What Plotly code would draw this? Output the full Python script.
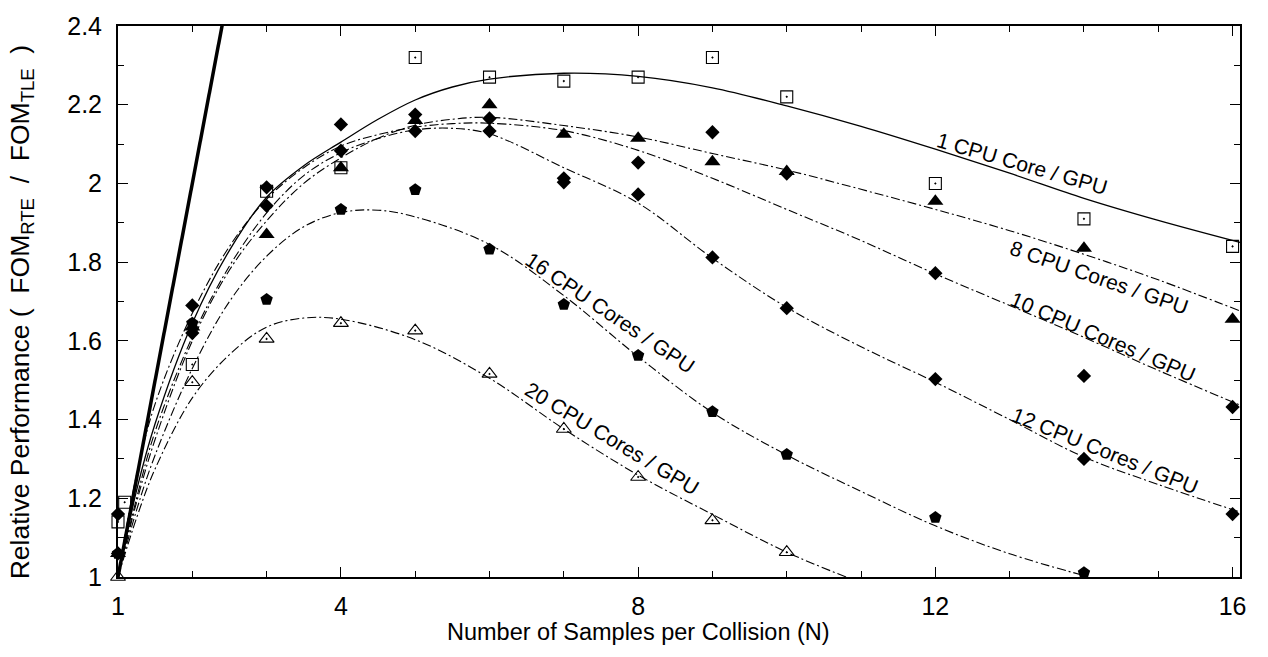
import plotly.graph_objects as go

# ---------------- data ----------------
samples_x = [1, 2, 3, 4, 5, 6, 7, 8, 9, 10, 12, 14, 16]

one_cpu_x = [1, 1.09, 2, 3, 4, 5, 6, 7, 8, 9, 10, 12, 14, 16]
one_cpu = [1.14, 1.19, 1.54, 1.98, 2.04, 2.32, 2.27, 2.26, 2.27, 2.32, 2.22, 2.00, 1.91, 1.84]
eight_cpu = [1.06, 1.635, 1.87, 2.04, 2.16, 2.20, 2.125, 2.115, 2.055, 2.03, 1.955, 1.835, 1.655]
ten_cpu = [1.16, 1.69, 1.99, 2.15, 2.175, 2.165, 2.013, 2.053, 2.13, 2.025, 1.772, 1.511, 1.432]
twelve_cpu = [1.06, 1.62, 1.943, 2.083, 2.133, 2.133, 2.003, 1.972, 1.812, 1.683, 1.503, 1.30, 1.16]
sixteen_x = [1, 2, 3, 4, 5, 6, 7, 8, 9, 10, 12, 14]
sixteen_cpu = [1.06, 1.645, 1.705, 1.934, 1.984, 1.8325, 1.6925, 1.563, 1.42, 1.311, 1.151, 1.011]
twenty_x = [1, 2, 3, 4, 5, 6, 7, 8, 9, 10]
twenty_cpu = [1.0, 1.495, 1.605, 1.645, 1.626, 1.516, 1.376, 1.254, 1.144, 1.063]

# fitted curves
fit_x = [1, 1.25, 1.5, 2, 2.5, 3, 3.5, 4, 4.5, 5, 5.5, 6, 7, 8, 9, 10, 11, 12, 13, 14, 15, 16.1]
one_fit = [1.0, 1.22, 1.39, 1.645, 1.83, 1.965, 2.045, 2.105, 2.163, 2.212, 2.245, 2.265, 2.28, 2.272, 2.243, 2.197, 2.145, 2.087, 2.026, 1.962, 1.906, 1.85]
eight_fit = [1.0, 1.19, 1.35, 1.60, 1.78, 1.905, 2.0, 2.065, 2.115, 2.148, 2.163, 2.168, 2.147, 2.118, 2.076, 2.034, 1.985, 1.934, 1.88, 1.82, 1.755, 1.676]
ten_fit = [1.0, 1.26, 1.44, 1.67, 1.84, 1.96, 2.04, 2.095, 2.124, 2.143, 2.152, 2.153, 2.134, 2.084, 2.013, 1.934, 1.855, 1.77, 1.69, 1.609, 1.525, 1.437]
twelve_fit = [1.0, 1.2, 1.37, 1.61, 1.79, 1.925, 2.02, 2.078, 2.114, 2.136, 2.14, 2.126, 2.04, 1.95, 1.81, 1.685, 1.585, 1.495, 1.40, 1.305, 1.235, 1.165]
sixteen_fit_x = [1, 1.25, 1.5, 2, 2.5, 3, 3.5, 4, 4.5, 5, 6, 7, 8, 9, 10, 11, 12, 13, 14.07]
sixteen_fit = [1.0, 1.17, 1.31, 1.53, 1.70, 1.815, 1.89, 1.926, 1.932, 1.915, 1.845, 1.715, 1.56, 1.418, 1.31, 1.2175, 1.13, 1.059, 1.0]
twenty_fit_x = [1, 1.25, 1.5, 2, 2.5, 3, 3.5, 4, 5, 6, 7, 8, 9, 10, 10.8]
twenty_fit = [1.0, 1.15, 1.275, 1.455, 1.565, 1.635, 1.658, 1.655, 1.603, 1.505, 1.376, 1.259, 1.159, 1.063, 1.0]

# ideal linear scaling
ideal_x = [1, 16]
ideal_y = [1, 16]

# labels
series_labels = ["1 CPU Core / GPU", "8 CPU Cores / GPU", "10 CPU Cores / GPU",
                 "12 CPU Cores / GPU", "16 CPU Cores / GPU", "20 CPU Cores / GPU"]
label_x = [13.16, 14.21, 14.25, 14.28, 7.62, 7.65]
label_y = [2.05, 1.762, 1.612, 1.322, 1.672, 1.352]
label_angle = [16, 19, 23, 22, 34, 31]

x_tickvals = [1, 4, 8, 12, 16]
x_minor = [2, 3, 5, 6, 7, 9, 10, 11, 13, 14, 15]
y_tickvals = [1, 1.2, 1.4, 1.6, 1.8, 2, 2.2, 2.4]
y_ticktext = ["1", "1.2", "1.4", "1.6", "1.8", "2", "2.2", "2.4"]

x_title = "Number of Samples per Collision (N)"
y_title = ("Relative Performance (&nbsp;&nbsp;FOM<sub>RTE</sub>&nbsp;&nbsp;/&nbsp;&nbsp;"
           "FOM<sub>TLE</sub>&nbsp;&nbsp;)")

FONT = "Liberation Sans, Arial, Helvetica, sans-serif"
DASHDOT = "9px,3px,2px,3px"

fig = go.Figure()

# fitted lines
fig.add_trace(go.Scatter(x=ideal_x, y=ideal_y, mode="lines",
                         line=dict(color="black", width=3.5), showlegend=False))
fig.add_trace(go.Scatter(x=fit_x, y=one_fit, mode="lines",
                         line=dict(color="black", width=1.3, shape="spline"), showlegend=False))
for ys in [eight_fit, ten_fit, twelve_fit]:
    fig.add_trace(go.Scatter(x=fit_x, y=ys, mode="lines",
                             line=dict(color="black", width=1.1, shape="spline", dash=DASHDOT),
                             showlegend=False))
fig.add_trace(go.Scatter(x=sixteen_fit_x, y=sixteen_fit, mode="lines",
                         line=dict(color="black", width=1.1, shape="spline", dash=DASHDOT),
                         showlegend=False))
fig.add_trace(go.Scatter(x=twenty_fit_x, y=twenty_fit, mode="lines",
                         line=dict(color="black", width=1.1, shape="spline", dash=DASHDOT),
                         showlegend=False))

# markers
def mk(x, y, symbol, size, open_=False):
    return go.Scatter(
        x=x, y=y, mode="markers", cliponaxis=False, showlegend=False,
        marker=dict(symbol=symbol, size=size, color="black",
                    line=dict(color="black", width=1.1 if open_ else 0)))

fig.add_trace(mk(one_cpu_x, one_cpu, "square-open-dot", 12, True))
fig.add_trace(mk(samples_x, eight_cpu, "triangle-up", 14))
fig.add_trace(mk(samples_x, ten_cpu, "diamond", 11))
fig.add_trace(mk(samples_x, twelve_cpu, "diamond", 11))
fig.add_trace(mk(sixteen_x, sixteen_cpu, "pentagon", 13))
fig.add_trace(mk(twenty_x, twenty_cpu, "triangle-up-open-dot", 13, True))

for t, lx, ly, ang in zip(series_labels, label_x, label_y, label_angle):
    fig.add_annotation(x=lx, y=ly, text=t, textangle=ang, showarrow=False,
                       font=dict(family=FONT, size=21, color="black"))

# axis titles as paper annotations
fig.add_annotation(xref="paper", yref="paper", x=0.4635, y=-0.1, xanchor="center", yanchor="middle",
                   text=x_title, showarrow=False, font=dict(family=FONT, size=23.5, color="black"))
fig.add_annotation(xref="paper", yref="paper", x=-0.0856, y=0.482, xanchor="center", yanchor="middle",
                   text=y_title, textangle=-90, showarrow=False,
                   font=dict(family=FONT, size=26.5, color="black"))

axis_common = dict(showgrid=False, zeroline=False, showline=True, linecolor="black",
                   linewidth=2, mirror="allticks", ticks="inside", ticklen=10,
                   tickwidth=1.2, tickcolor="black",
                   tickfont=dict(family=FONT, size=25, color="black"))

fig.update_xaxes(range=[1, 16.1], tickvals=x_tickvals, ticktext=[str(v) for v in x_tickvals],
                 ticklabelstandoff=6,
                 minor=dict(tickvals=x_minor, ticks="inside", ticklen=6, tickcolor="black", tickwidth=1.2),
                 **axis_common)
fig.update_yaxes(range=[1, 2.4], tickvals=y_tickvals, ticktext=y_ticktext,
                 ticklabelstandoff=9,
                 minor=dict(dtick=0.1, tick0=1, ticks="inside", ticklen=6, tickcolor="black", tickwidth=1.2),
                 **axis_common)

fig.update_layout(width=1268, height=657, margin=dict(l=118, r=28, t=16, b=80),
                  paper_bgcolor="white", plot_bgcolor="white",
                  font=dict(family=FONT, color="black"))

fig.write_html("out.html")
